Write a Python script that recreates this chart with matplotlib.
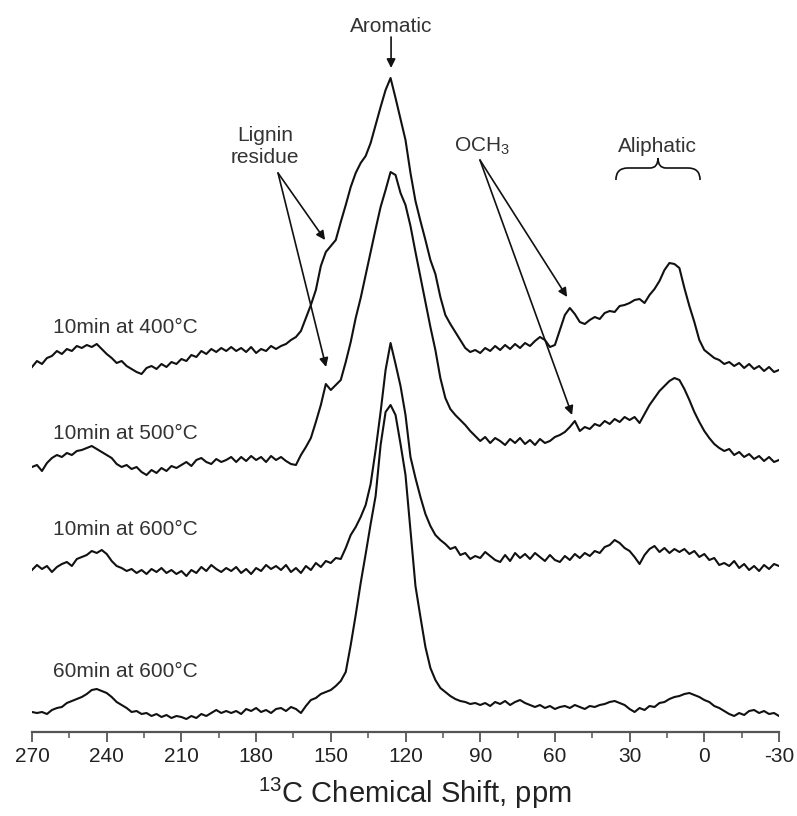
import matplotlib
matplotlib.use('Agg')
import matplotlib.pyplot as plt
from matplotlib.path import Path
from matplotlib.patches import PathPatch
from matplotlib.ticker import MultipleLocator

plt.rcParams['font.family'] = ['Liberation Sans', 'DejaVu Sans']
plt.rcParams['mathtext.default'] = 'regular'

# chemical shift grid (ppm)
ppm = [270, 268, 266, 264, 262, 260, 258, 256, 254, 252,
       250, 248, 246, 244, 242, 240, 238, 236, 234, 232,
       230, 228, 226, 224, 222, 220, 218, 216, 214, 212,
       210, 208, 206, 204, 202, 200, 198, 196, 194, 192,
       190, 188, 186, 184, 182, 180, 178, 176, 174, 172,
       170, 168, 166, 164, 162, 160, 158, 156, 154, 152,
       150, 148, 146, 144, 142, 140, 138, 136, 134, 132,
       130, 128, 126, 124, 122, 120, 118, 116, 114, 112,
       110, 108, 106, 104, 102, 100, 98, 96, 94, 92,
       90, 88, 86, 84, 82, 80, 78, 76, 74, 72,
       70, 68, 66, 64, 62, 60, 58, 56, 54, 52,
       50, 48, 46, 44, 42, 40, 38, 36, 34, 32,
       30, 28, 26, 24, 22, 20, 18, 16, 14, 12,
       10, 8, 6, 4, 2, 0, -2, -4, -6, -8,
       -10, -12, -14, -16, -18, -20, -22, -24, -26, -28, -30]

# stacked intensities (arbitrary units, already offset)
s_10min_400 = [365, 371, 368, 374, 376, 381, 378, 383, 381, 386,
               384, 387, 385, 388, 383, 378, 374, 369, 371, 366,
               363, 360, 358, 364, 366, 363, 368, 365, 370, 368,
               373, 371, 377, 375, 381, 378, 383, 380, 384, 381,
               385, 381, 384, 380, 385, 379, 383, 381, 386, 383,
               386, 388, 392, 395, 401, 414, 427, 442, 466, 480,
               486, 492, 510, 527, 545, 559, 569, 576, 589, 607,
               625, 642, 654, 634, 613, 592, 559, 531, 511, 492,
               472, 458, 435, 417, 408, 400, 392, 384, 380, 382,
               379, 384, 381, 386, 382, 387, 383, 388, 384, 389,
               386, 391, 395, 392, 385, 387, 402, 417, 424, 418,
               410, 408, 412, 415, 413, 419, 421, 420, 426, 427,
               429, 432, 433, 429, 437, 443, 451, 462, 469, 468,
               464, 444, 426, 410, 392, 382, 378, 374, 372, 368,
               370, 366, 369, 364, 368, 363, 366, 361, 365, 360, 362]

s_10min_500 = [265, 267, 261, 269, 274, 277, 275, 279, 277, 281,
               282, 284, 286, 283, 280, 277, 274, 268, 265, 267,
               263, 265, 260, 257, 262, 259, 264, 261, 266, 264,
               267, 270, 266, 272, 274, 270, 268, 273, 270, 272,
               275, 270, 275, 271, 276, 272, 275, 270, 276, 272,
               275, 271, 268, 267, 277, 285, 294, 310, 327, 348,
               342, 347, 352, 370, 390, 414, 434, 457, 480, 503,
               525, 542, 560, 557, 539, 527, 506, 480, 455, 430,
               405, 382, 354, 334, 323, 317, 312, 307, 301, 296,
               291, 295, 289, 294, 291, 287, 293, 289, 294, 288,
               292, 287, 293, 289, 291, 295, 297, 300, 305, 311,
               301, 305, 303, 308, 306, 311, 308, 313, 310, 315,
               312, 315, 309, 318, 327, 334, 341, 346, 351, 354,
               352, 343, 332, 320, 310, 301, 294, 288, 284, 281,
               283, 277, 280, 275, 278, 273, 276, 271, 275, 270, 272]

s_10min_600 = [162, 167, 163, 166, 160, 165, 168, 170, 166, 173,
               175, 177, 181, 179, 182, 178, 171, 166, 164, 161,
               163, 159, 162, 158, 163, 160, 164, 159, 162, 158,
               161, 156, 162, 159, 165, 161, 167, 163, 160, 164,
               161, 165, 159, 163, 158, 164, 161, 167, 163, 166,
               162, 167, 160, 164, 159, 166, 162, 169, 165, 171,
               169, 174, 173, 184, 197, 205, 215, 227, 248, 282,
               320, 362, 389, 368, 346, 317, 275, 254, 235, 218,
               206, 197, 192, 188, 183, 185, 177, 179, 173, 176,
               174, 180, 176, 172, 170, 177, 171, 179, 174, 178,
               173, 179, 175, 171, 177, 172, 170, 176, 172, 178,
               174, 179, 176, 181, 179, 185, 187, 192, 189, 184,
               181, 175, 168, 177, 183, 186, 180, 184, 179, 183,
               180, 183, 178, 181, 175, 178, 172, 174, 167, 169,
               166, 171, 164, 168, 162, 166, 161, 167, 163, 168, 166]

s_60min_600 = [20, 19, 20, 18, 22, 24, 25, 29, 31, 33,
               35, 38, 42, 43, 41, 39, 35, 30, 27, 24,
               20, 21, 18, 19, 16, 18, 15, 17, 14, 16,
               15, 13, 16, 14, 18, 16, 19, 22, 19, 21,
               19, 21, 18, 23, 21, 24, 20, 22, 19, 23,
               24, 21, 25, 23, 19, 26, 32, 34, 38, 40,
               42, 46, 51, 60, 87, 117, 149, 178, 208, 236,
               287, 320, 327, 317, 288, 257, 202, 146, 115, 85,
               64, 52, 44, 40, 36, 33, 31, 30, 28, 29,
               27, 29, 26, 30, 28, 31, 27, 30, 32, 29,
               27, 25, 27, 24, 26, 23, 25, 26, 24, 27,
               25, 23, 26, 25, 27, 28, 30, 31, 29, 27,
               23, 20, 24, 22, 26, 25, 29, 30, 33, 35,
               36, 38, 39, 37, 35, 32, 30, 26, 24, 21,
               18, 16, 19, 17, 21, 22, 19, 21, 18, 19, 16]

spectra = [s_10min_400, s_10min_500, s_10min_600, s_60min_600]
labels = ['10min at 400°C', '10min at 500°C', '10min at 600°C', '60min at 600°C']
label_y = [399, 293, 197, 55]
label_x = 261.6

tick_values = [270, 240, 210, 180, 150, 120, 90, 60, 30, 0, -30]

fig = plt.figure(figsize=(7.97, 8.16), dpi=100)
ax = fig.add_axes([32 / 797, 84 / 816, 747 / 797, 732 / 816])

line_col = '#111111'
text_col = '#333333'

for s in spectra:
    ax.plot(ppm, s, color=line_col, lw=1.5, solid_joinstyle='round')

ax.set_xlim(270, -30)
ax.set_ylim(0, 732)

for sp in ['left', 'right', 'top']:
    ax.spines[sp].set_visible(False)
ax.spines['bottom'].set_color('#555555')
ax.spines['bottom'].set_linewidth(1.6)
ax.set_yticks([])
ax.set_xticks(tick_values)
ax.set_xticklabels([str(v) for v in tick_values])
ax.xaxis.set_minor_locator(MultipleLocator(15))
ax.tick_params(axis='x', which='major', length=7, width=1.3, direction='out',
               labelsize=15, pad=4, color='#555555', labelcolor='#222222')
ax.tick_params(axis='x', which='minor', length=4, width=1.1, direction='out',
               color='#555555')

ax.set_xlabel('$^{13}$C Chemical Shift, ppm', fontsize=21, color='#222222')
ax.xaxis.set_label_coords((415 - 32) / 747, (732 - 793) / 732)
ax.xaxis.label.set_verticalalignment('center')

for lab, y in zip(labels, label_y):
    ax.text(label_x, y, lab, fontsize=15, color=text_col, ha='left', va='baseline')

arrow_kw = dict(arrowstyle='-|>', mutation_scale=13, lw=1.2, color=line_col,
                shrinkA=0, shrinkB=0)

# Aromatic
ax.text(125.8, 700, 'Aromatic', fontsize=15, color=text_col, ha='center', va='baseline')
ax.annotate('', xy=(125.8, 664), xytext=(125.8, 695), arrowprops=arrow_kw)

# Lignin residue
ax.text(176.4, 591, 'Lignin', fontsize=15, color=text_col, ha='center', va='baseline')
ax.text(176.4, 569, 'residue', fontsize=15, color=text_col, ha='center', va='baseline')
for tip in [(152.3, 492), (151.9, 365)]:
    ax.annotate('', xy=tip, xytext=(171.2, 559), arrowprops=arrow_kw)

# OCH3
ax.text(89.1, 580, 'OCH$_3$', fontsize=15, color=text_col, ha='center', va='baseline')
for tip in [(55.1, 435), (53.1, 317)]:
    ax.annotate('', xy=tip, xytext=(90.1, 572), arrowprops=arrow_kw)

# Aliphatic with brace
ax.text(18.8, 580, 'Aliphatic', fontsize=15, color=text_col, ha='center', va='baseline')
L, R = 35.5, 1.7
M = (L + R) / 2
base_h, bar_h, tip_h = 552, 564, 574
r, c = 4.8, 3.2
verts = [(L, base_h), (L, bar_h), (L - r, bar_h),
         (M + c, bar_h),
         (M, bar_h), (M, tip_h),
         (M, bar_h), (M - c, bar_h),
         (R + r, bar_h),
         (R, bar_h), (R, base_h)]
codes = [Path.MOVETO, Path.CURVE3, Path.CURVE3,
         Path.LINETO,
         Path.CURVE3, Path.CURVE3,
         Path.CURVE3, Path.CURVE3,
         Path.LINETO,
         Path.CURVE3, Path.CURVE3]
ax.add_patch(PathPatch(Path(verts, codes), fill=False, lw=1.2, edgecolor=line_col))

fig.savefig('out.png', dpi=100)
